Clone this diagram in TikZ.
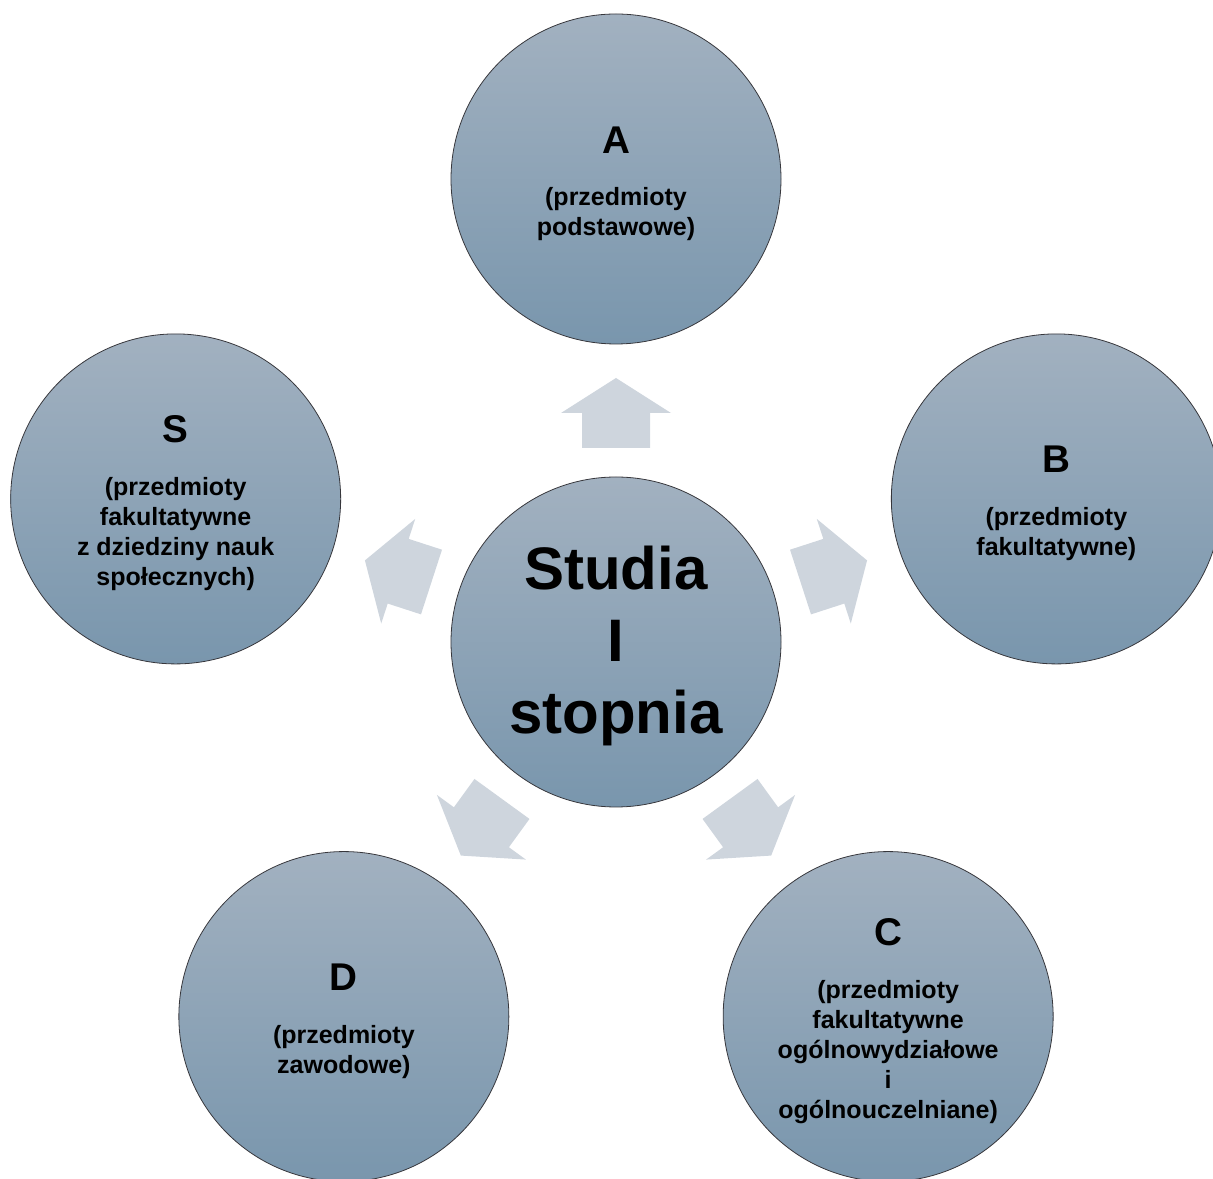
\documentclass[tikz,border=0pt]{standalone}
\usepackage{fontspec}
\setmainfont{Liberation Sans}
\definecolor{circtop}{RGB}{162,177,192}
\definecolor{circbot}{RGB}{121,150,173}
\definecolor{arrowfill}{RGB}{206,213,221}
\definecolor{circline}{RGB}{55,55,60}
\tikzset{
  bubble/.style={circle, minimum size=247.5pt, inner sep=0pt, top color=circtop, bottom color=circbot,
    draw=circline, line width=0.6pt, align=center, text=black,
    font=\bfseries\fontsize{18.75}{22.5}\selectfont},
  hub/.style={bubble, font=\bfseries\fontsize{45}{54}\selectfont},
  blockarrow/.style={fill=arrowfill, draw=none}
}
\newcommand{\bigletter}[1]{{\fontsize{29}{29}\selectfont\rule{0pt}{27pt}#1}\\[17pt]}
\begin{document}
\begin{tikzpicture}[x=0.75pt,y=0.75pt]
\useasboundingbox (0,0) rectangle (1213,1178);
\clip (0,0) rectangle (1213,1178);
\coordinate (ctr) at (616,536);
% block arrows
\foreach \a in {90,18,-54,-126,162}{
  \path[blockarrow, shift={(ctr)}, rotate=\a]
    (194,-34) -- (229,-34) -- (229,-55) -- (264,0) -- (229,55) -- (229,34) -- (194,34) -- cycle;
}
\node[hub] (hubnode) at (ctr) {\rule{0pt}{39pt}Studia\\I\\stopnia};
\node[bubble] (A) at ([shift={(90:463)}]ctr) {\bigletter{A}(przedmioty\\podstawowe)};
\node[bubble] (B) at ([shift={(18:463)}]ctr) {\bigletter{B}(przedmioty\\fakultatywne)};
\node[bubble] (C) at ([shift={(-54:463)}]ctr) {\bigletter{C}(przedmioty\\fakultatywne\\ogólnowydziałowe\\i\\ogólnouczelniane)};
\node[bubble] (D) at ([shift={(-126:463)}]ctr) {\bigletter{D}(przedmioty\\zawodowe)};
\node[bubble] (S) at ([shift={(162:463)}]ctr) {\bigletter{S}(przedmioty\\fakultatywne\\z dziedziny nauk\\społecznych)};
\end{tikzpicture}
\end{document}
